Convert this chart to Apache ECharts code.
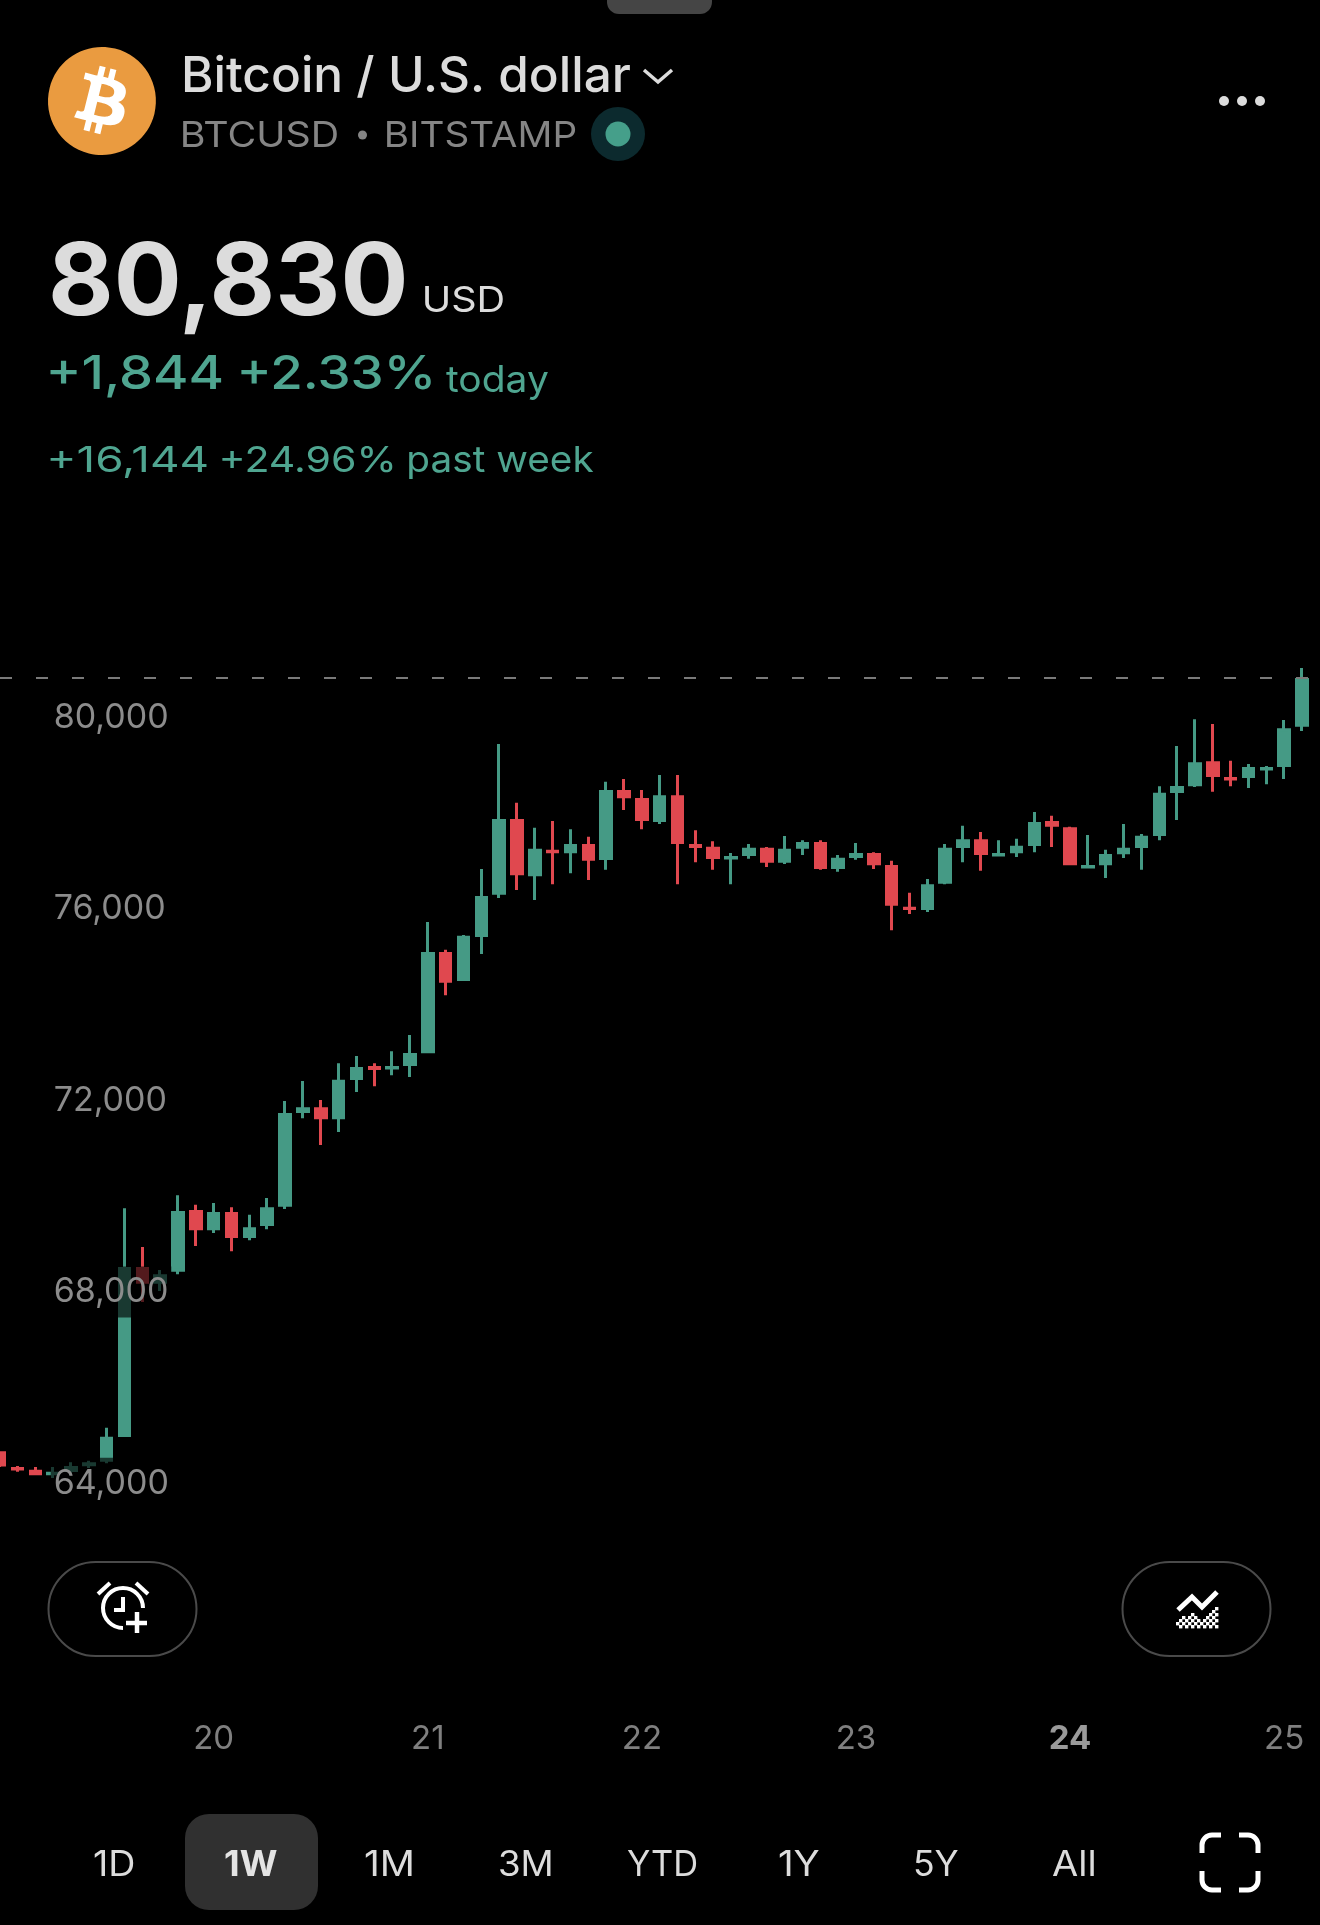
<!DOCTYPE html>
<html>
<head>
<meta charset="utf-8">
<style>html,body{margin:0;padding:0;background:#000}#c{width:1320px;height:1925px}</style>
<script src="https://cdn.jsdelivr.net/npm/echarts@6/dist/echarts.min.js"></script>
</head>
<body>
<div id="c"></div>
<script>
const opens  = [64640,64310,64250,64200,64270,64390,64480,65000,68490,68200,68450,69680,69320,69640,69160,69410,69810,71770,71830,71640,72460,72690,72680,72750,73020,75070,74530,75450,76330,77850,76720,77210,77200,77330,77060,78460,78290,77850,78350,77330,77270,77070,77140,77250,77000,77290,77370,76870,77100,77140,76890,76020,76010,76560,77310,77430,77130,77200,77350,77810,77680,76880,76950,77180,77310,77560,78460,78600,79060,78730,78770,78930,79000,79840];
const closes = [64380,64300,64200,64210,64330,64410,64940,68490,68200,68340,69660,69320,69640,69160,69320,69740,71710,71830,71640,72400,72670,72670,72690,72960,75070,74490,75410,76240,77850,76740,77230,77200,77330,77040,78460,78350,77870,78350,77390,77310,77080,77080,77250,77000,77230,77370,76870,77040,77140,76950,76100,76010,76490,77250,77430,77160,77140,77290,77790,77750,76950,76890,77120,77250,77500,78400,78540,79040,78790,78720,78940,78940,79750,80800];
const lows   = [64340,64240,64170,64110,64170,64320,64420,64970,67790,68020,68370,68960,69230,68850,69080,69310,69730,71630,71070,71340,72180,72300,72530,72490,72990,74200,74500,75060,76230,76400,76190,76520,76750,76610,76820,78070,77670,77780,76520,76980,76820,76520,77050,76880,76940,77130,76820,76780,77030,76840,75560,75900,75940,76520,76980,76800,77110,77090,77190,77300,76920,76860,76650,77070,76820,77440,77860,78550,78450,78570,78530,78610,78720,79720];
const highs  = [64670,64360,64340,64340,64440,64470,65160,69750,68940,68460,70020,69820,69860,69770,69610,69960,71990,72410,72010,72780,72930,72780,73030,73370,75730,75150,75460,76840,79450,78220,77700,77840,77670,77510,78660,78720,78490,78800,78800,77650,77420,77170,77360,77300,77530,77440,77440,77130,77380,77190,77010,76340,76630,77360,77740,77610,77440,77470,78030,77950,77720,77550,77240,77780,77570,78570,79410,79970,79870,79100,79030,78990,79950,81040];
const categories = opens.map((_, i) => 'c' + i);
const dayTickLabels = {12:'20', 24:'21', 36:'22', 48:'23', 60:'24', 72:'25'};
const boldDay = '24';
const priceTicks = [64000, 68000, 72000, 76000, 80000];
const lastPrice = 80830;

const UP = '#459a85', DOWN = '#e0484f', TXT = '#dcdcdc', GREEN_TXT = '#4fa590', GREY_TXT = '#858585', FONT = 'Inter';
const candle = opens.map((o, i) => [o, closes[i], lows[i], highs[i]]);

const measureCtx = document.createElement('canvas').getContext('2d');
// T: text whose inked span is fitted to [left, left+width]
function T(text, left, y, size, weight, fill, width) {
  measureCtx.font = weight + ' ' + size + 'px ' + FONT;
  const m = measureCtx.measureText(text);
  const ink = m.actualBoundingBoxRight + m.actualBoundingBoxLeft;
  const sx = width / ink;
  return {type:'text', z:100, silent:true, x:left + m.actualBoundingBoxLeft*sx, y, scaleX:sx,
    style:{text, fontSize:size, fontWeight:weight, fontFamily:FONT, fill, align:'left', verticalAlign:'middle'}};
}
function L(points, stroke, width) {
  return {type:'polyline', z:100, silent:true, shape:{points}, style:{fill:null, stroke, lineWidth:width}};
}
function A(cx, cy, r, startAngle, endAngle, stroke, width) {
  return {type:'arc', z:100, silent:true, shape:{cx,cy,r,startAngle,endAngle,clockwise:true}, style:{fill:null,stroke,lineWidth:width}};
}
const btc = 'M23.638 14.904c-1.602 6.43-8.113 10.34-14.542 8.736C2.67 22.05-1.244 15.525.362 9.105 1.962 2.67 8.475-1.243 14.9.358c6.43 1.605 10.342 8.115 8.738 14.548v-.002zm-6.35-4.613c.24-1.59-.974-2.45-2.64-3.03l.54-2.153-1.315-.33-.525 2.107c-.345-.087-.705-.167-1.064-.25l.526-2.127-1.32-.33-.54 2.165c-.285-.067-.565-.132-.84-.2l-1.815-.45-.35 1.407s.975.225.955.236c.535.136.63.486.615.766l-1.477 5.92c-.075.166-.24.406-.614.314.015.02-.96-.24-.96-.24l-.66 1.51 1.71.426.93.242-.54 2.19 1.32.327.54-2.17c.36.1.705.19 1.05.273l-.51 2.154 1.32.33.545-2.19c2.24.427 3.93.257 4.64-1.774.57-1.637-.03-2.58-1.217-3.196.854-.193 1.5-.76 1.68-1.93h.01zm-3.01 4.22c-.404 1.64-3.157.75-4.05.53l.72-2.9c.896.23 3.757.67 3.33 2.37zm.41-4.24c-.37 1.49-2.662.735-3.405.55l.654-2.64c.744.18 3.137.524 2.75 2.084v.006z';

const g = [];
g.push({type:'rect', z:100, silent:true, shape:{x:607,y:-12,width:105,height:26,r:12}, style:{fill:'#454545'}});
// header
g.push(T('Bitcoin / U.S. dollar', 184, 77.5, 49, 500, TXT, 446));
g.push(L([[644,70],[658,82],[672,70]], TXT, 3.5));
g.push(T('BTCUSD', 183, 136.5, 36, 400, GREY_TXT, 154));
g.push({type:'circle', z:100, silent:true, shape:{cx:362.5,cy:135,r:4.5}, style:{fill:GREY_TXT}});
g.push(T('BITSTAMP', 387, 136.5, 36, 400, GREY_TXT, 189));
g.push({type:'circle', z:100, silent:true, shape:{cx:618,cy:134,r:27}, style:{fill:'#0c2a2e'}});
g.push({type:'circle', z:100, silent:true, shape:{cx:618,cy:134,r:12.5}, style:{fill:'#459f8a'}});
[1224,1242,1260].forEach(cx => g.push({type:'circle', z:100, silent:true, shape:{cx,cy:101,r:5}, style:{fill:TXT}}));
// price
g.push(T('80,830', 52, 284.5, 100, 700, TXT, 352));
g.push(T('USD', 425, 301.5, 36, 400, TXT, 78));
g.push(T('+1,844', 50, 374.5, 47, 500, GREEN_TXT, 172));
g.push(T('+2.33%', 241, 374.5, 47, 500, GREEN_TXT, 190));
g.push(T('today', 446, 380.5, 37, 400, GREEN_TXT, 102));
g.push(T('+16,144', 50, 461.5, 36, 400, GREEN_TXT, 157.5));
g.push(T('+24.96%', 222, 461.5, 36, 400, GREEN_TXT, 171));
g.push(T('past week', 408.5, 461.5, 36, 400, GREEN_TXT, 185.5));
// floating buttons
[48.5,1122.5].forEach(x => g.push({type:'rect', z:100, silent:true, shape:{x,y:1562,width:148,height:94,r:47}, style:{fill:null, stroke:'#4a4a4a', lineWidth:2}}));
// alarm icon
g.push(A(123,1608,20,Math.PI/2,Math.PI*2,'#fff',4));
g.push(L([[123,1597],[123,1610],[114,1610]], '#fff', 4));
g.push(L([[98,1594],[110,1583]], '#fff', 4));
g.push(L([[136,1583],[148,1594]], '#fff', 4));
g.push(L([[126,1623],[147,1623]], '#fff', 4.5));
g.push(L([[137,1612],[137,1633]], '#fff', 4.5));
// chart icon
g.push(L([[1178,1610],[1192,1597],[1202,1607],[1217,1592]], '#fff', 5));
const inMountain = (x, y) => {
  const pts = [[1176,1620],[1192,1609],[1202,1618],[1218,1603]];
  if (x < 1176 || x > 1218 || y > 1628) return false;
  for (let k = 0; k < 3; k++) {
    const [a,b] = pts[k], [c,d] = pts[k+1];
    if (x >= a && x <= c) return y >= b + (d-b)*(x-a)/(c-a);
  }
  return false;
};
for (let ix = 0; ix < 14; ix++) for (let iy = 0; iy < 10; iy++) {
  const x = 1176 + ix*3, y = 1598 + iy*3;
  if ((ix + iy) % 2 === 0 && inMountain(x, y)) g.push({type:'rect', z:100, silent:true, shape:{x,y,width:3.4,height:3.4}, style:{fill:'#fff'}});
}
// range bar
g.push({type:'rect', z:100, silent:true, shape:{x:185,y:1814,width:133,height:96,r:24}, style:{fill:'#303030'}});
const ranges = [['1D',94,40],['1W',225,52],['1M',365,47],['3M',500,51],['YTD',627,70],['1Y',779,40],['5Y',915,43],['All',1052,42]];
ranges.forEach(([t,x,w]) => g.push(T(t, x, 1865, 35, t==='1W'?700:400, t==='1W'?'#e4e4e4':TXT, w)));
// full-screen brackets
const PI = Math.PI;
g.push(L([[1202,1853],[1202,1845]], '#fff', 5), A(1212,1845,10,PI,1.5*PI,'#fff',5), L([[1212,1835],[1221,1835]], '#fff', 5));
g.push(L([[1239,1835],[1248,1835]], '#fff', 5), A(1248,1845,10,1.5*PI,2*PI,'#fff',5), L([[1258,1845],[1258,1853]], '#fff', 5));
g.push(L([[1258,1871],[1258,1880]], '#fff', 5), A(1248,1880,10,0,0.5*PI,'#fff',5), L([[1248,1890],[1239,1890]], '#fff', 5));
g.push(L([[1221,1890],[1212,1890]], '#fff', 5), A(1212,1880,10,0.5*PI,PI,'#fff',5), L([[1202,1880],[1202,1871]], '#fff', 5));

const chart = echarts.init(document.getElementById('c'));
chart.setOption({
  backgroundColor:'#000',
  animation:false,
  grid:{left:-9.3, top:526.3, width:1320.2, height:1148.4, containLabel:false, show:false, outerBoundsMode:'none'},
  xAxis:{
    type:'category', data:categories, boundaryGap:true,
    axisLine:{show:false}, axisTick:{show:false}, splitLine:{show:false},
    axisLabel:{
      interval:0, margin:48, color:'#7f7f7f', fontSize:33, fontFamily:FONT, hideOverlap:false,
      formatter:(v, i) => { const d = dayTickLabels[i]; return d ? (d === boldDay ? '{b|' + d + '}' : d) : ''; },
      rich:{b:{fontWeight:700, color:'#9a9a9a', fontSize:33, fontFamily:FONT}}
    }
  },
  yAxis:{
    type:'value', min:60000, max:84000, interval:4000, position:'left', z:10,
    axisLine:{show:false}, axisTick:{show:false}, splitLine:{show:false},
    axisLabel:{
      inside:true, margin:60, color:'#8c8c8c', fontSize:34, fontFamily:FONT, align:'left',
      lineHeight:39, padding:[12,3,0,3], backgroundColor:'rgba(0,0,0,0.63)',
      showMinLabel:false, showMaxLabel:false,
      formatter:v => priceTicks.includes(v) ? v.toLocaleString('en-US') : ''
    }
  },
  series:[{
    type:'candlestick', data:candle, barWidth:11, clip:true,
    itemStyle:{color:UP, color0:DOWN, borderColor:UP, borderColor0:DOWN, borderWidth:3},
    markLine:{
      silent:true, symbol:['none','none'], animation:false,
      label:{show:false},
      lineStyle:{color:'#7a7a7a', type:[12,24], width:2, dashOffset:26.7},
      data:[{yAxis:lastPrice}]
    }
  },{
    type:'custom', coordinateSystem:'none', data:[0], silent:true, z:50,
    renderItem:() => ({type:'group', children:[
      {type:'circle', shape:{cx:102,cy:101,r:40}, style:{fill:'#ffffff'}},
      {type:'path', shape:{pathData:btc, x:48, y:47, width:108, height:108, layout:'cover'}, style:{fill:'#ea9b40'}}
    ]})
  }],
  graphic:g
});
</script>
</body>
</html>
